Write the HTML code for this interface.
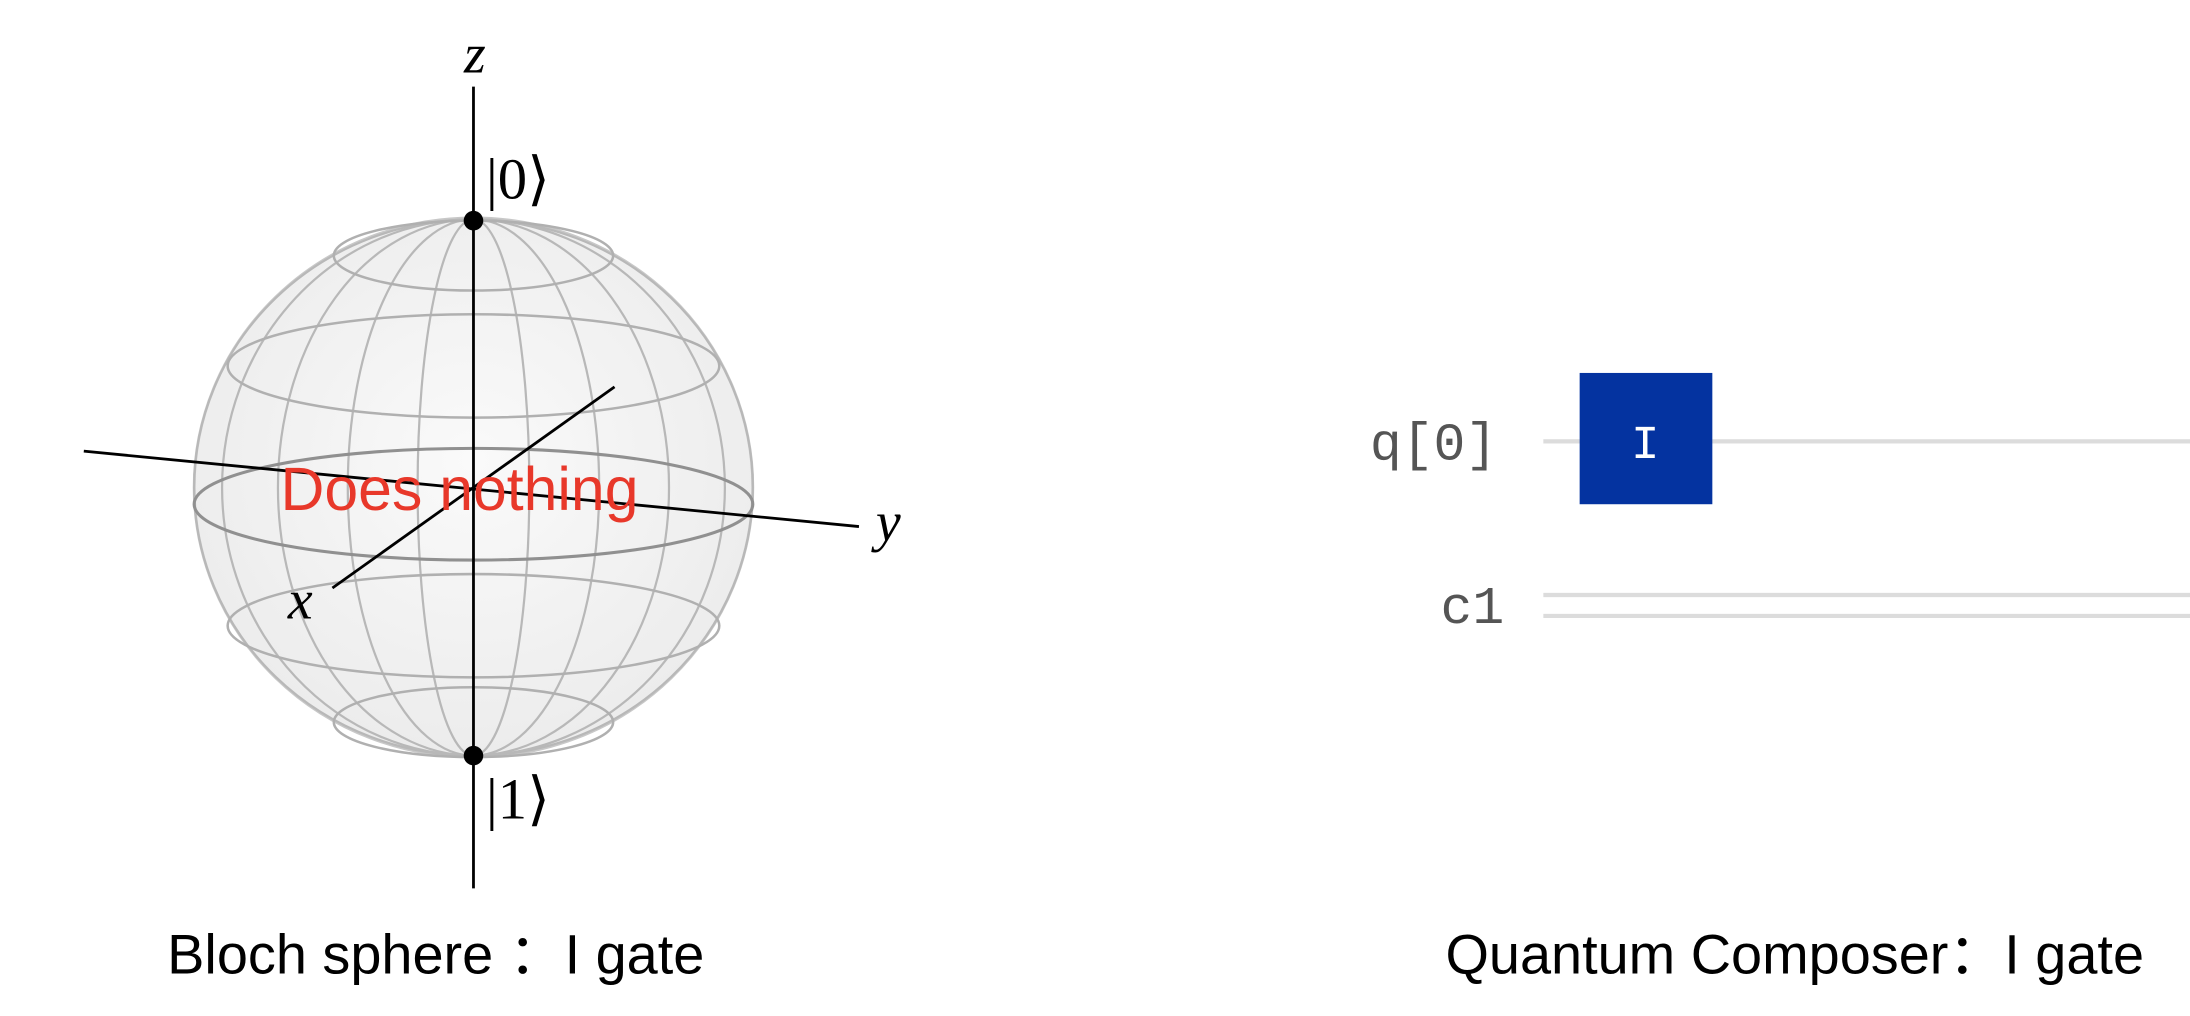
<!DOCTYPE html>
<html><head><meta charset="utf-8"><style>
html,body{margin:0;padding:0;background:#fff;width:2190px;height:1016px;overflow:hidden}
svg{display:block}
</style></head><body>
<svg width="2190" height="1016" viewBox="0 0 1568 727.4">
<defs><radialGradient id="sg" cx="50%" cy="45%" r="55%"><stop offset="0" stop-color="#fafafa"/><stop offset="1" stop-color="#ececec"/></radialGradient></defs>
<g>
<ellipse cx="339" cy="349" rx="200" ry="193" fill="url(#sg)" stroke="#c8c8c8" stroke-width="2"/>
<g id="mer" fill="none" stroke="#b8b8b8" stroke-width="1.6"></g>
<g fill="none" stroke="#b0b0b0" stroke-width="1.8">
<ellipse cx="339" cy="183" rx="100" ry="25"/>
<ellipse cx="339" cy="262" rx="176" ry="37"/>
<ellipse cx="339" cy="361" rx="200" ry="40" stroke="#909090" stroke-width="2.2"/>
<ellipse cx="339" cy="448" rx="176" ry="37"/>
<ellipse cx="339" cy="517" rx="100" ry="25"/>
</g>
<line x1="339" y1="62" x2="339" y2="636" stroke="#000" stroke-width="2"/>
<line x1="60" y1="323" x2="615" y2="377" stroke="#000" stroke-width="2"/>
<line x1="238" y1="421" x2="440" y2="277" stroke="#000" stroke-width="2"/>
<circle cx="339" cy="158" r="7" fill="#000"/>
<circle cx="339" cy="541" r="7" fill="#000"/>
<text x="340" y="52" font-family="Liberation Serif, serif" font-style="italic" font-size="40" text-anchor="middle">z</text>
<text x="636" y="387" font-family="Liberation Serif, serif" font-style="italic" font-size="40" text-anchor="middle">y</text>
<text x="215" y="443" font-family="Liberation Serif, serif" font-style="italic" font-size="40" text-anchor="middle">x</text>
<text x="348" y="142" font-family="Liberation Serif, serif" font-size="42">|0⟩</text>
<text x="348" y="586" font-family="Liberation Serif, serif" font-size="42">|1⟩</text>
<text x="329" y="365" font-family="Liberation Sans, sans-serif" font-size="43.5" fill="#e8382a" text-anchor="middle">Does nothing</text>
</g>
<text x="312" y="697" font-family="Liberation Sans, sans-serif" font-size="40" text-anchor="middle">Bloch sphere ：I  gate</text>
<g>
<text x="1072" y="329" font-family="Liberation Mono, monospace" font-size="38" fill="#555" text-anchor="end">q[0]</text>
<line x1="1105" y1="316" x2="1568" y2="316" stroke="#dcdcdc" stroke-width="3"/>
<rect x="1131" y="267" width="95" height="94" fill="#0433a0"/>
<text x="1178" y="328" font-family="Liberation Mono, monospace" font-size="34" fill="#fff" text-anchor="middle">I</text>
<text x="1077" y="446" font-family="Liberation Mono, monospace" font-size="38" fill="#555" text-anchor="end">c1</text>
<line x1="1105" y1="426" x2="1568" y2="426" stroke="#dcdcdc" stroke-width="3"/>
<line x1="1105" y1="441" x2="1568" y2="441" stroke="#dcdcdc" stroke-width="3"/>
</g>
<text x="1285" y="697" font-family="Liberation Sans, 'Noto Sans CJK SC', sans-serif" font-size="40" text-anchor="middle">Quantum Composer：I  gate</text>
</svg>
<script>
const meridianFractions=[0.2,0.45,0.7,0.9,1.0];
const g=document.getElementById('mer');
meridianFractions.forEach(f=>{
  const e=document.createElementNS('http://www.w3.org/2000/svg','ellipse');
  e.setAttribute('cx',339);e.setAttribute('cy',349);
  e.setAttribute('rx',200*f);e.setAttribute('ry',192);
  
  
  g.appendChild(e);
});
</script>
</body></html>
